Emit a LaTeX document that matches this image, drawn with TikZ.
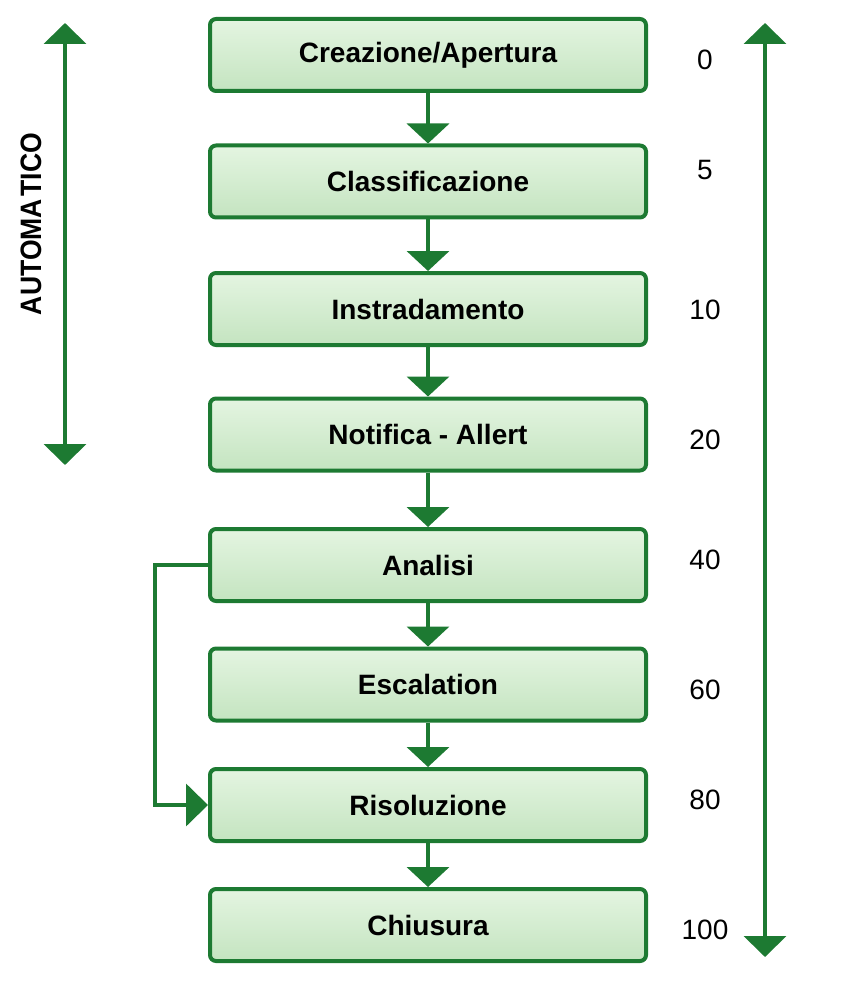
\documentclass[tikz,border=0pt]{standalone}
\usepackage{fontspec}
\setmainfont{Liberation Sans}
\usetikzlibrary{arrows.meta}
\definecolor{gline}{RGB}{29,122,50}
\definecolor{gtop}{RGB}{228,245,225}
\definecolor{gbot}{RGB}{196,228,192}
\tikzset{
  stepbox/.style={draw=gline, line width=4pt, rounded corners=6pt,
    top color=gtop, bottom color=gbot, minimum width=436pt, minimum height=72pt,
    inner sep=0pt, font=\fontsize{28}{28}\selectfont\bfseries},
  flow/.style={draw=gline, line width=4pt, -{Triangle[width=42pt,length=20pt]}},
  side/.style={draw=gline, line width=4pt, {Triangle[width=42pt,length=21pt]}-{Triangle[width=42pt,length=21pt]}},
  num/.style={font=\fontsize{28}{28}\selectfont, inner sep=0pt}
}
\begin{document}
\begin{tikzpicture}[x=1pt,y=-1pt]
\useasboundingbox (0,0) rectangle (859,984);
\node[stepbox] (b1) at (428,55) {Creazione/Apertura};
\node[stepbox] (b2) at (428,181.5) {Classificazione};
\node[stepbox] (b3) at (428,309) {Instradamento};
\node[stepbox] (b4) at (428,434.5) {Notifica - Allert};
\node[stepbox] (b5) at (428,565) {Analisi};
\node[stepbox] (b6) at (428,684.5) {Escalation};
\node[stepbox] (b7) at (428,805) {Risoluzione};
\node[stepbox] (b8) at (428,925) {Chiusura};
\foreach \a/\b in {b1/b2,b2/b3,b3/b4,b4/b5,b5/b6,b6/b7,b7/b8}
  \draw[flow] (\a.south) -- (\b.north);
\draw[draw=gline, line width=4pt, -{Triangle[width=42pt,length=22pt]}, line join=miter]
  (b5.west) -- ++(-53,0) |- (b7.west);
\coordinate (la) at (65,23);
\coordinate (lb) at (65,465);
\draw[side] (la) -- (lb);
\coordinate (ra) at (765,23);
\coordinate (rb) at (765,957);
\draw[side] (ra) -- (rb);
\node[rotate=90, inner sep=0pt, font=\fontsize{29.5}{29.5}\selectfont\bfseries] (auto) at (31,224)
  {\scalebox{0.9}[1]{AUTOMA\kern3pt TICO}};
\node[num] (n0) at (705,60) {0};
\node[num] (n5) at (705,170) {5};
\node[num] (n10) at (705,310) {10};
\node[num] (n20) at (705,440) {20};
\node[num] (n40) at (705,560) {40};
\node[num] (n60) at (705,690) {60};
\node[num] (n80) at (705,800) {80};
\node[num] (n100) at (705,930) {100};
\end{tikzpicture}
\end{document}
